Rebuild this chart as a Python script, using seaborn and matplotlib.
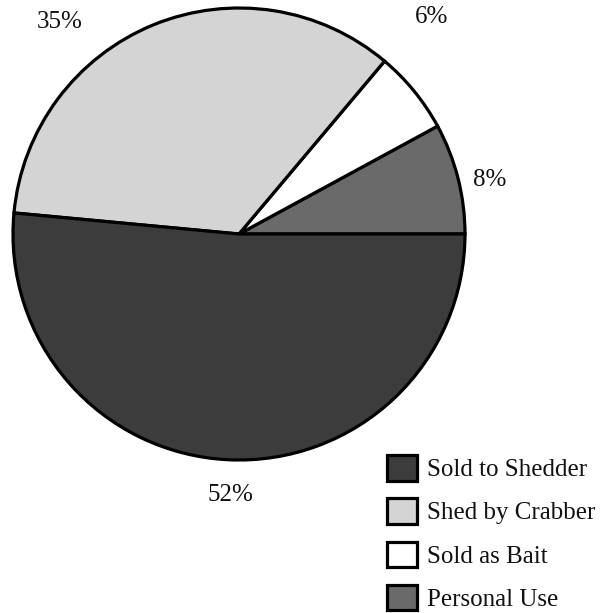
import matplotlib
matplotlib.use("Agg")
import matplotlib.pyplot as plt
import seaborn as sns

categories = ["Personal Use", "Sold as Bait", "Shed by Crabber", "Sold to Shedder"]
values = [8, 6, 35, 52]
pct_labels = ["8%", "6%", "35%", "52%"]
colors = ["#6a6a6a", "#ffffff", "#d4d4d4", "#3c3c3c"]
legend_order = ["Sold to Shedder", "Shed by Crabber", "Sold as Bait", "Personal Use"]

sns.set_theme(style="white")
plt.rcParams["font.family"] = ["Liberation Serif", "DejaVu Serif"]

W, H = 605, 613
fig = plt.figure(figsize=(W / 100, H / 100), dpi=100)
ax = fig.add_axes([0, 0, 1, 1])

cx, cy, r = 239, H - 234, 226
wedges, _ = ax.pie(values, colors=colors, startangle=0, counterclock=True,
                   center=(cx, cy), radius=r, frame=True,
                   wedgeprops=dict(edgecolor="black", linewidth=2.3))
ax.set_xlim(0, W)
ax.set_ylim(0, H)
ax.set_aspect("equal")
ax.axis("off")

label_pos = {"8%": (490, 180), "6%": (432, 17), "35%": (60, 22), "52%": (230, 495)}
for lab in pct_labels:
    x, y = label_pos[lab]
    ax.text(x, H - y, lab, fontsize=18, ha="center", va="center", color="#111111")

handles = [wedges[categories.index(c)] for c in legend_order]
leg = fig.legend(handles, legend_order, loc="upper left",
                 bbox_to_anchor=(387 / W, 1 - 455 / H), frameon=False,
                 fontsize=18, handlelength=1.2, handleheight=1.2,
                 handletextpad=0.4, labelspacing=0.68, borderpad=0,
                 borderaxespad=0)
for t in leg.get_texts():
    t.set_color("#111111")

fig.savefig("out.png", dpi=100)
